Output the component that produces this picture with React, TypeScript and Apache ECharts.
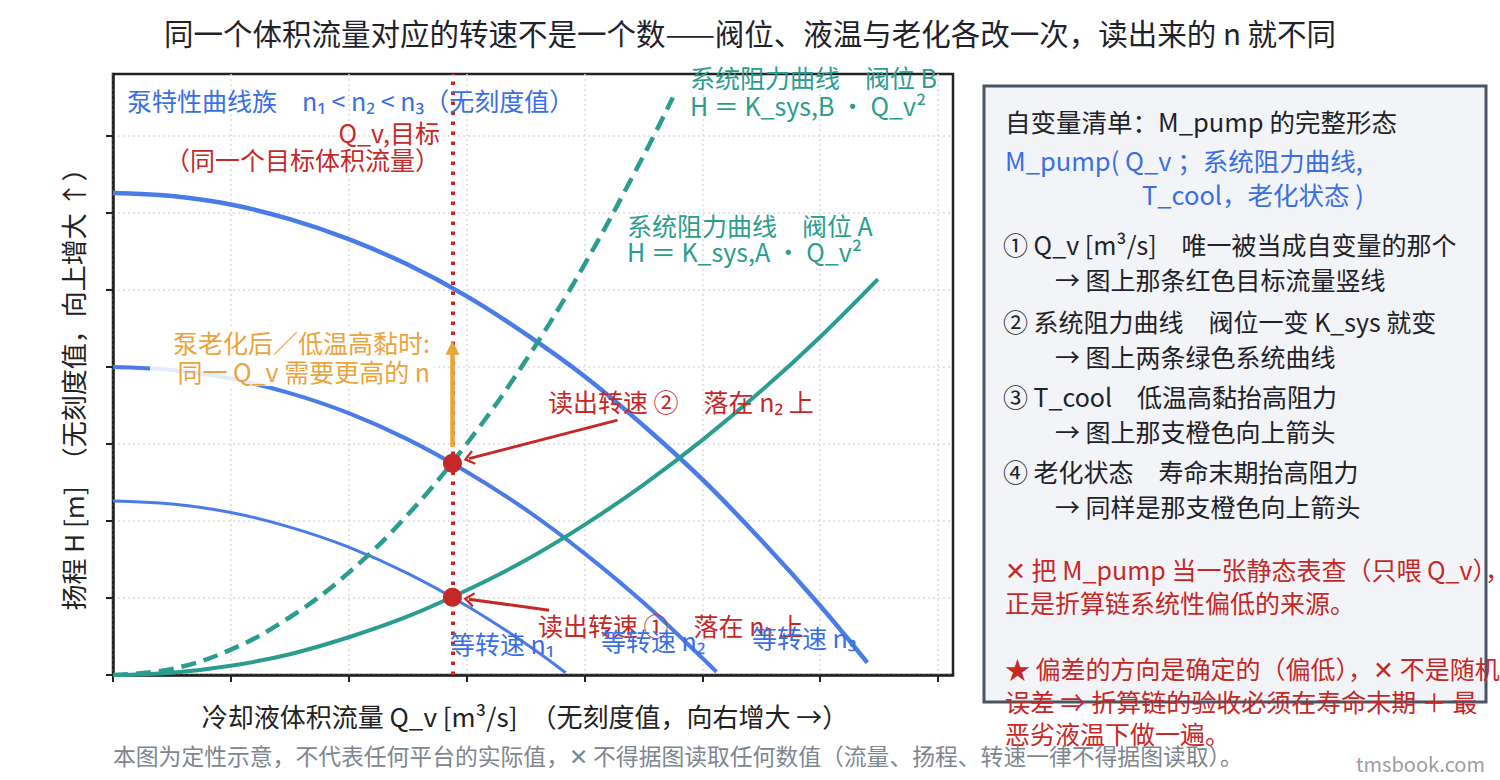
import React, { useEffect, useRef } from 'react';
import * as echarts from 'echarts';

const FONT = "'Noto Sans CJK SC', 'Noto Sans', sans-serif";

// 无刻度值：坐标只按格数计
const xTicks = [0, 1, 2, 3, 4, 5, 6, 7];
const yTicks = [0, 1, 2, 3, 4, 5, 6, 7];

// 泵特性曲线族 n1 < n2 < n3
const qN1 = [0, 0.5, 1, 1.5, 2, 2.5, 3, 3.5, 3.84];
const hN1 = [2.26, 2.22, 2.11, 1.92, 1.66, 1.32, 0.9, 0.41, 0.03];
const qN2 = [0, 0.5, 1, 1.5, 2, 2.5, 3, 3.5, 4, 4.5, 5, 5.12];
const hN2 = [4.0, 3.96, 3.85, 3.66, 3.4, 3.06, 2.64, 2.15, 1.58, 0.94, 0.22, 0.04];
const qN3 = [0, 0.5, 1, 1.5, 2, 2.5, 3, 3.5, 4, 4.5, 5, 5.5, 6, 6.4];
const hN3 = [6.26, 6.22, 6.11, 5.92, 5.66, 5.33, 4.92, 4.43, 3.88, 3.24, 2.54, 1.75, 0.9, 0.16];

// 系统阻力曲线 阀位 A / B
const qSysA = [0, 0.5, 1, 1.5, 2, 2.5, 3, 3.5, 4, 4.5, 5, 5.5, 6, 6.49];
const hSysA = [0, 0.03, 0.12, 0.27, 0.49, 0.76, 1.1, 1.49, 1.95, 2.47, 3.05, 3.69, 4.39, 5.14];
const qSysB = [0, 0.5, 1, 1.5, 2, 2.5, 3, 3.5, 4, 4.5, 4.75];
const hSysB = [0, 0.08, 0.33, 0.75, 1.33, 2.08, 3.0, 4.08, 5.33, 6.74, 7.5];

// 目标流量与两个工作点
const qTarget = 2.88;
const opPoints = [[2.88, 1.01], [2.88, 2.75]];
const agingArrow = [[2.88, 2.96], [2.88, 4.25]];
const readArrow1 = [[3.7, 0.84], [3.02, 0.985]];
const readArrow2 = [[4.28, 3.31], [3.02, 2.81]];

const BLUE = '#4a7ce8';
const BLUE_TXT = '#3a6fe4';
const GREEN = '#2a9d8f';
const RED = '#c62828';
const ORANGE = '#eba43d';
const DARK = '#1f2329';

const CHEVRON = 'path://M10,0 L20,12 L17.6,13.6 L10,4.6 L2.4,13.6 L0,12 Z';

const txt = (
  x: number,
  y: number,
  text: string,
  fill: string,
  fontSize = 25,
  align = 'left',
  extra: Record<string, unknown> = {}
) => ({
  type: 'text',
  x,
  y,
  z: 100,
  silent: true,
  style: {
    text,
    fill,
    fontSize,
    fontFamily: FONT,
    align,
    verticalAlign: 'middle',
    ...extra,
  },
});

export default function App() {
  const chartRef = useRef<HTMLDivElement>(null);

  useEffect(() => {
    if (!chartRef.current) return;
    const chart = echarts.init(chartRef.current, null, { renderer: 'svg' });

    const zip = (qs: number[], hs: number[]) => qs.map((q, i) => [q, hs[i]]);
    const curve = (name: string, qs: number[], hs: number[], color: string, width: number, type: any = 'solid') => ({
      name,
      type: 'line',
      data: zip(qs, hs),
      smooth: 0.4,
      showSymbol: false,
      symbol: 'none',
      silent: true,
      z: 2,
      lineStyle: { color, width, type, cap: 'butt' },
    });
    const arrowLine = (from: number[], to: number[], color: string, width: number, head: string, size: any) => ({
      type: 'line',
      data: [],
      silent: true,
      markLine: {
        silent: true,
        animation: false,
        symbol: ['none', head],
        symbolSize: size,
        label: { show: false },
        emphasis: { disabled: true },
        lineStyle: { color, width, type: 'solid' },
        data: [[{ coord: from }, { coord: to }]],
      },
    });

    const axisCommon = {
      type: 'value' as const,
      min: 0,
      interval: 1,
      axisLine: { show: true, onZero: false, lineStyle: { color: '#222', width: 2.5 } },
      axisLabel: { show: false },
      splitLine: { show: true, lineStyle: { color: '#dcdcdc', width: 1.5, type: [2, 3] } },
    };

    const option: any = {
      animation: false,
      textStyle: { fontFamily: FONT },
      title: {
        text: '同一个体积流量对应的转速不是一个数——阀位、液温与老化各改一次，读出来的 n 就不同',
        left: 'center',
        top: 12,
        textStyle: { fontSize: 29.5, fontWeight: 'normal', color: DARK, fontFamily: FONT },
      },
      grid: {
        left: 113,
        top: 74,
        width: 840,
        height: 601,
        show: true,
        borderColor: '#222',
        borderWidth: 2.5,
        backgroundColor: 'transparent',
      },
      xAxis: {
        ...axisCommon,
        max: 7.127,
        axisTick: { show: true, length: 7, lineStyle: { color: '#222', width: 2 }, customValues: xTicks },
      },
      yAxis: {
        ...axisCommon,
        max: 7.805,
        axisTick: { show: true, length: 7, lineStyle: { color: '#222', width: 2 }, customValues: yTicks },
      },
      series: [
        curve('等转速 n1', qN1, hN1, BLUE, 3),
        curve('等转速 n2', qN2, hN2, BLUE, 4),
        curve('等转速 n3', qN3, hN3, BLUE, 4.5),
        curve('系统阻力曲线 阀位 A', qSysA, hSysA, GREEN, 4),
        curve('系统阻力曲线 阀位 B', qSysB, hSysB, GREEN, 4.5, [15, 8]),
        {
          type: 'line',
          data: [],
          silent: true,
          markLine: {
            silent: true,
            animation: false,
            symbol: 'none',
            label: { show: false },
            emphasis: { disabled: true },
            lineStyle: { color: RED, width: 4, type: [3.5, 6.5], cap: 'butt' },
            data: [{ xAxis: qTarget }],
          },
        },
        arrowLine(agingArrow[0], agingArrow[1], ORANGE, 4.5, 'triangle', [14, 14]),
        arrowLine(readArrow1[0], readArrow1[1], RED, 3, CHEVRON, [15, 11]),
        arrowLine(readArrow2[0], readArrow2[1], RED, 3, CHEVRON, [15, 11]),
        {
          type: 'scatter',
          data: opPoints,
          symbol: 'circle',
          symbolSize: 19,
          silent: true,
          z: 10,
          itemStyle: { color: RED, opacity: 1, borderWidth: 0 },
        },
      ],
      graphic: [
        // 坐标轴名称
        txt(525, 715, '冷却液体积流量 Q_v [m³/s]　（无刻度值，向右增大 →）', '#222', 26, 'center'),
        {
          ...txt(72, 383, '扬程 H [m]　（无刻度值，向上增大 ↑）', '#222', 26, 'center'),
          rotation: Math.PI / 2,
        },
        // 图内注释
        txt(127, 100, '泵特性曲线族　n₁ < n₂ < n₃（无刻度值）', BLUE_TXT),
        txt(440, 145, 'Q_v,目标\n（同一个目标体积流量）', RED, 25, 'right', { lineHeight: 27 }),
        txt(690, 91, '系统阻力曲线　阀位 B\nH ＝ K_sys,B ・ Q_v²', GREEN, 25, 'left', { lineHeight: 28 }),
        txt(627, 238, '系统阻力曲线　阀位 A\nH ＝ K_sys,A ・ Q_v²', GREEN, 25, 'left', { lineHeight: 26 }),
        {
          type: 'rect',
          z: 99,
          silent: true,
          shape: { x: 150, y: 326, width: 284, height: 60 },
          style: { fill: 'rgba(255,255,255,0.85)' },
        },
        txt(430, 356, '泵老化后／低温高黏时:\n同一 Q_v 需要更高的 n', ORANGE, 25, 'right', { lineHeight: 29 }),
        txt(548, 401, '读出转速 ②　落在 n₂ 上', RED),
        txt(538, 625, '读出转速 ①　落在 n₁ 上', RED),
        txt(450, 643, '等转速 n₁', BLUE_TXT),
        txt(601, 640, '等转速 n₂', BLUE_TXT),
        txt(752, 637, '等转速 n₃', BLUE_TXT),
        // 右侧自变量清单
        {
          type: 'rect',
          z: 50,
          silent: true,
          shape: { x: 984, y: 86, width: 502, height: 616 },
          style: { fill: '#f2f4f7', stroke: '#4b5563', lineWidth: 3 },
        },
        txt(1005, 120, '自变量清单：M_pump 的完整形态', DARK, 25.5),
        txt(1005, 159, 'M_pump( Q_v ；系统阻力曲线,', BLUE_TXT, 25.5),
        txt(1142, 193, 'T_cool，老化状态 )', BLUE_TXT, 25.5),
        txt(1003, 244, '① Q_v [m³/s]　唯一被当成自变量的那个', DARK),
        txt(1055, 279, '→ 图上那条红色目标流量竖线', DARK),
        txt(1003, 321, '② 系统阻力曲线　阀位一变 K_sys 就变', DARK),
        txt(1055, 356, '→ 图上两条绿色系统曲线', DARK),
        txt(1003, 396, '③ T_cool　低温高黏抬高阻力', DARK),
        txt(1055, 431, '→ 图上那支橙色向上箭头', DARK),
        txt(1003, 471, '④ 老化状态　寿命末期抬高阻力', DARK),
        txt(1055, 506, '→ 同样是那支橙色向上箭头', DARK),
        txt(1005, 569, '✕ 把 M_pump 当一张静态表查（只喂 Q_v），', RED),
        txt(1005, 602, '正是折算链系统性偏低的来源。', RED),
        txt(1005, 668, '★ 偏差的方向是确定的（偏低），✕ 不是随机', RED),
        txt(1005, 701, '误差 ⇒ 折算链的验收必须在寿命末期 ＋ 最', RED),
        txt(1005, 733, '恶劣液温下做一遍。', RED),
        // 页脚
        txt(
          113,
          755,
          '本图为定性示意，不代表任何平台的实际值，✕ 不得据图读取任何数值（流量、扬程、转速一律不得据图读取）。',
          '#80868f',
          22.8
        ),
        txt(1485, 763, 'tmsbook.com', '#9a9ea4', 20, 'right'),
      ],
    };

    chart.setOption(option);
    return () => {
      chart.dispose();
    };
  }, []);

  return <div ref={chartRef} style={{ position: 'absolute', left: 0, top: 0, width: 1500, height: 780 }} />;
}
